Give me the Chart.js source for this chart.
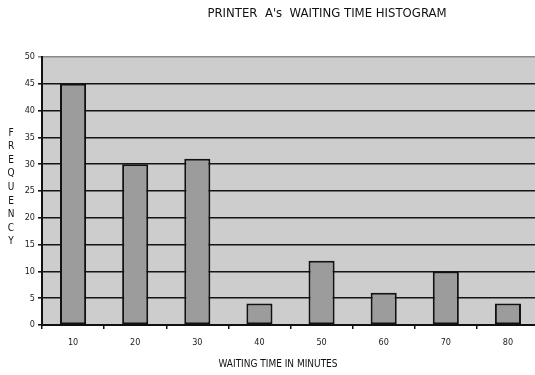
<!DOCTYPE html>
<html>
<head>
<meta charset="utf-8">
<script src="https://cdn.jsdelivr.net/npm/chart.js@4"></script>
<style>
    html, body { margin: 0; padding: 0; background: #fff; overflow: hidden; }
    canvas { display: block; }
</style>
</head>
<body>
<canvas id="histogram" width="540" height="375"></canvas>
<script>
const
    WAIT_TIMES = ['10', '20', '30', '40', '50', '60', '70', '80'],
    FREQUENCIES = [45, 30, 31, 4, 12, 6, 10, 4];
const
    TITLE = "PRINTER  A's  WAITING TIME HISTOGRAM",
    X_LABEL = 'WAITING TIME IN MINUTES',
    Y_LABEL = 'FREQUENCY';

const NARROW = "'Liberation Sans Narrow', 'DejaVu Sans Condensed', 'Liberation Sans', sans-serif";

// squeeze text horizontally into a given width (the original uses a very tight font)
function squeezedText(ctx, text, cx, y, width, font) {
    ctx.save();
    ctx.font = font;
    const w = ctx.measureText(text).width;
    const sx = Math.min(1, width / w);
    ctx.translate(cx, y);
    ctx.scale(sx, 1);
    ctx.textAlign = 'center';
    ctx.textBaseline = 'middle';
    ctx.fillStyle = '#111';
    ctx.fillText(text, 0, 0);
    ctx.restore();
}

const plotBackground = {
    id: 'plotBackground',
    beforeDraw(chart) {
        const { ctx, chartArea: a } = chart;
        ctx.save();
        ctx.fillStyle = '#cdcdcd';
        ctx.fillRect(a.left, a.top, a.right - a.left, a.bottom - a.top);
        ctx.restore();
    },
};

const labels = {
    id: 'labels',
    afterDraw(chart) {
        const { ctx } = chart;
        squeezedText(ctx, TITLE, 327, 14, 241, '13px ' + NARROW);
        squeezedText(ctx, X_LABEL, 278, 364, 119, '11px ' + NARROW);
        // stacked letters on the left
        ctx.save();
        ctx.font = '10px ' + NARROW;
        ctx.fillStyle = '#111';
        ctx.textAlign = 'center';
        ctx.textBaseline = 'middle';
        [...Y_LABEL].forEach((ch, i) => ctx.fillText(ch, 11, 133 + i * 13.6));
        ctx.restore();
    },
};

new Chart(document.getElementById('histogram'), {
    type: 'bar',
    data: {
        labels: WAIT_TIMES,
        datasets: [{
            data: FREQUENCIES,
            backgroundColor: '#9c9c9c',
            borderColor: '#111',
            borderWidth: 2,
            borderSkipped: false,
            categoryPercentage: 1,
            barPercentage: 0.42,
        }],
    },
    options: {
        responsive: false,
        animation: false,
        layout: { padding: { top: 57, right: 1, left: 0, bottom: 0 } },
        plugins: {
            legend: { display: false },
            tooltip: { enabled: false },
        },
        scales: {
            x: {
                afterFit(scale) { scale.height = 50; },
                grid: { drawOnChartArea: false, offset: true, tickLength: 4, color: '#111', lineWidth: 1.5 },
                border: { color: '#111', width: 2 },
                ticks: { color: '#222', font: { size: 9, family: NARROW }, padding: 8, maxRotation: 0 },
            },
            y: {
                min: 0,
                max: 50,
                afterFit(scale) { scale.width = 42; },
                grid: {
                    color: (c) => c.tick && c.tick.value === 50 ? '#8a8a8a' : '#151515',
                    lineWidth: 1.6,
                    tickLength: 4,
                },
                border: { color: '#111', width: 2 },
                ticks: { stepSize: 5, color: '#222', font: { size: 9, family: NARROW }, padding: 3 },
            },
        },
    },
    plugins: [plotBackground, labels],
});
</script>
</body>
</html>
